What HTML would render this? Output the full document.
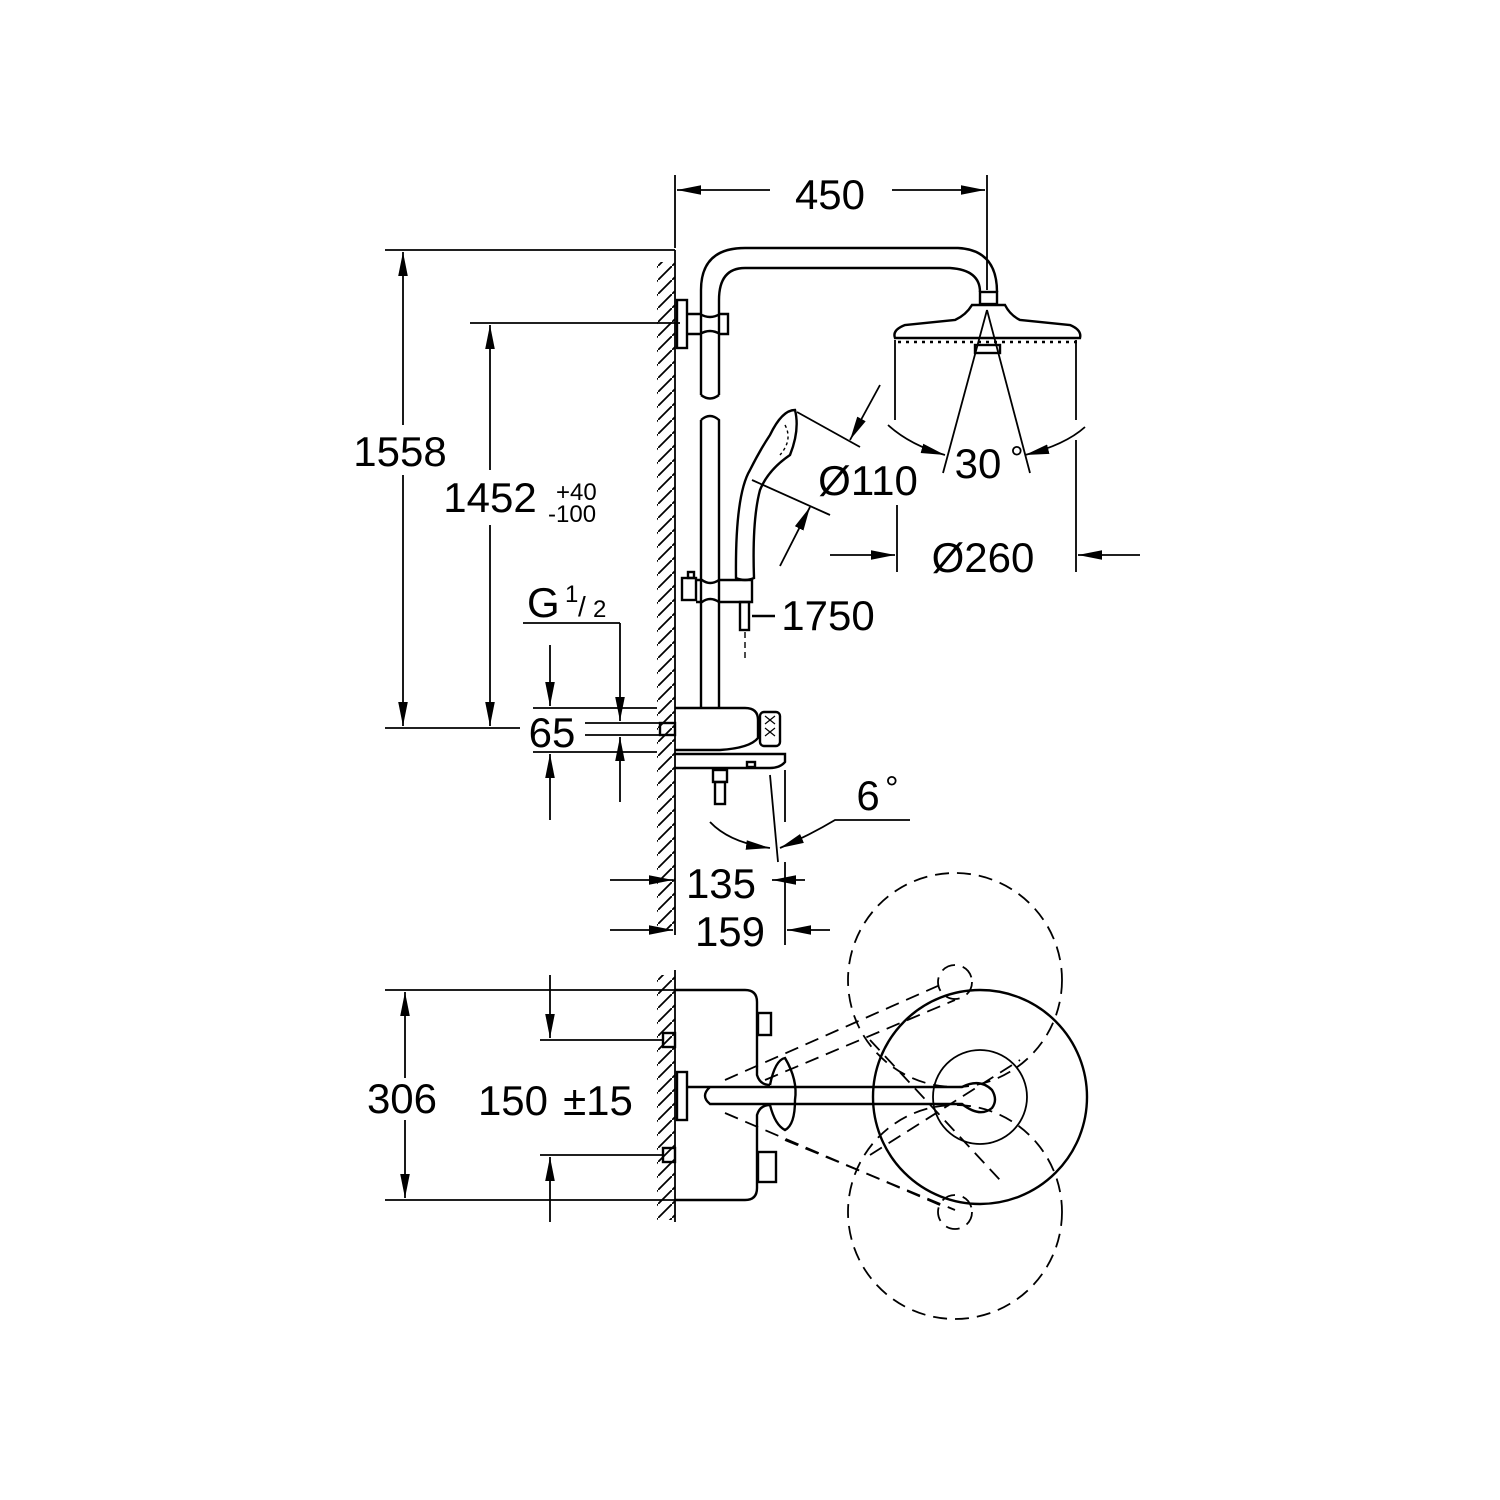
<!DOCTYPE html>
<html><head><meta charset="utf-8"><style>
html,body{margin:0;padding:0;background:#fff}
svg{display:block}
text{font-family:"Liberation Sans",Arial,sans-serif;fill:#000}
</style></head><body>
<svg width="1500" height="1500" viewBox="0 0 1500 1500" xmlns="http://www.w3.org/2000/svg">
<defs>
<marker id="a" viewBox="0 0 10 10" refX="10" refY="5" markerWidth="24" markerHeight="24" markerUnits="userSpaceOnUse" orient="auto-start-reverse"><path d="M0,3 L10,5 L0,7z" fill="#000"/></marker>
<pattern id="h" width="14" height="14" patternUnits="userSpaceOnUse"><path d="M-2,16 L16,-2" stroke="#000" stroke-width="1.8"/></pattern>
</defs>
<g stroke="#000" fill="none" stroke-width="1.8">
<line x1="675" y1="250" x2="675" y2="935"/>
<rect x="657" y="262" width="18" height="668" fill="url(#h)" stroke="none"/>
<line x1="675" y1="970" x2="675" y2="1222"/>
<rect x="657" y="975" width="18" height="245" fill="url(#h)" stroke="none"/>

<g stroke-width="2.4">
<path d="M701,395 L701,290 Q701,248 745,248 L958,248 Q997,250 997,292"/>
<path d="M719,395 L719,300 Q719,268 745,268 L950,268 Q980,270 980,292"/>
<path d="M701,395 Q710,402 719,395"/>
<path d="M701,420 Q710,412 719,420 L719,708 M701,420 L701,708"/>
<rect x="980" y="292" width="17" height="12"/>
<path d="M972,305 L1005,305 Q1010,315 1020,320 L1070,325 Q1082,330 1080,338 L895,338 Q892,330 905,325 L955,320 Q966,315 972,305z"/>
<path d="M898,342 L1077,342" stroke-dasharray="3 5"/>
<rect x="975" y="345" width="25" height="8"/>
<rect x="677" y="300" width="10" height="48"/>
<path d="M687,314 L700,314 Q710,320 720,314 L728,314 L728,334 L720,334 Q710,328 700,334 L687,334"/>
<rect x="682" y="578" width="14" height="22"/>
<rect x="688" y="572" width="6" height="6"/>
<path d="M696,580 L702,580 Q710,586 719,580 L752,580 L752,602 L719,602 Q710,596 702,602 L696,602"/>
<rect x="740" y="602" width="9" height="28"/>
<line x1="752" y1="616" x2="775" y2="616"/>
<line x1="745" y1="632" x2="745" y2="660" stroke-dasharray="6 4" stroke-width="1.4"/>
<path d="M736,578 Q735,495 750,470 Q760,450 770,435 Q782,410 795,410 Q800,430 790,455 Q768,470 760,490 Q752,520 754,578 Q745,582 736,578z"/>
<path d="M785,425 Q793,440 780,455" stroke-width="1.4" stroke-dasharray="3 3"/>
<rect x="660" y="723" width="15" height="12"/>
<path d="M675,708 L745,708 Q758,708 758,720 L758,738 Q750,748 720,750 L675,750"/>
<rect x="760" y="712" width="20" height="34" rx="4"/>
<path d="M675,754 L785,754 L785,762 Q780,768 770,768 L675,768"/>
<rect x="713" y="770" width="14" height="12"/>
<rect x="715" y="782" width="10" height="22"/>
<rect x="747" y="762" width="8" height="5"/>
</g>
<path d="M765,716 l10,8 M775,716 l-10,8 M765,728 l10,8 M775,728 l-10,8" stroke-width="1.2"/>

<line x1="675" y1="175" x2="675" y2="248"/>
<line x1="987" y1="175" x2="987" y2="290"/>
<line x1="677" y1="190" x2="770" y2="190" marker-start="url(#a)"/>
<line x1="892" y1="190" x2="985" y2="190" marker-end="url(#a)"/>
<line x1="385" y1="250" x2="675" y2="250"/>
<line x1="385" y1="728" x2="520" y2="728"/>
<line x1="403" y1="252" x2="403" y2="425" marker-start="url(#a)"/>
<line x1="403" y1="475" x2="403" y2="726" marker-end="url(#a)"/>
<line x1="470" y1="323" x2="680" y2="323"/>
<line x1="490" y1="325" x2="490" y2="470" marker-start="url(#a)"/>
<line x1="490" y1="525" x2="490" y2="726" marker-end="url(#a)"/>
<line x1="523" y1="623" x2="620" y2="623"/>
<line x1="620" y1="623" x2="620" y2="721" marker-end="url(#a)"/>
<line x1="620" y1="802" x2="620" y2="737" marker-end="url(#a)"/>
<line x1="550" y1="645" x2="550" y2="706" marker-end="url(#a)"/>
<line x1="550" y1="820" x2="550" y2="754" marker-end="url(#a)"/>
<line x1="533" y1="708" x2="657" y2="708"/>
<line x1="533" y1="752" x2="657" y2="752"/>
<line x1="585" y1="723" x2="660" y2="723"/>
<line x1="585" y1="735" x2="660" y2="735"/>
<line x1="797" y1="412" x2="860" y2="447"/>
<line x1="752" y1="480" x2="830" y2="515"/>
<line x1="880" y1="385" x2="850" y2="440" marker-end="url(#a)"/>
<line x1="780" y1="566" x2="810" y2="507" marker-end="url(#a)"/>
<line x1="895" y1="340" x2="895" y2="420"/>
<line x1="1076" y1="340" x2="1076" y2="420"/>
<line x1="987" y1="310" x2="943" y2="473"/>
<line x1="987" y1="310" x2="1030" y2="473"/>
<path d="M888,425 Q910,445 945,455" marker-end="url(#a)"/>
<path d="M1085,427 Q1065,445 1025,455" marker-end="url(#a)"/>
<line x1="897" y1="505" x2="897" y2="572"/>
<line x1="1076" y1="440" x2="1076" y2="572"/>
<line x1="830" y1="555" x2="895" y2="555" marker-end="url(#a)"/>
<line x1="1140" y1="555" x2="1078" y2="555" marker-end="url(#a)"/>
<line x1="770" y1="775" x2="778" y2="862"/>
<line x1="785" y1="770" x2="785" y2="822"/>
<path d="M710,822 Q730,843 770,848" marker-end="url(#a)"/>
<path d="M910,820 L835,820 Q810,835 780,848" marker-end="url(#a)"/>
<line x1="610" y1="880" x2="673" y2="880" marker-end="url(#a)"/>
<line x1="805" y1="880" x2="772" y2="880" marker-end="url(#a)"/>
<line x1="610" y1="930" x2="673" y2="930" marker-end="url(#a)"/>
<line x1="830" y1="930" x2="787" y2="930" marker-end="url(#a)"/>
<line x1="785" y1="862" x2="785" y2="945"/>

<g stroke-width="2.4">
<path d="M675,990 L745,990 Q757,990 757,1002 L757,1075 Q760,1085 770,1085"/>
<path d="M675,1200 L745,1200 Q757,1200 757,1188 L757,1115 Q760,1105 770,1105"/>
<rect x="758" y="1013" width="13" height="22"/>
<rect x="758" y="1152" width="18" height="30"/>
<rect x="663" y="1033" width="12" height="14"/>
<rect x="663" y="1148" width="12" height="14"/>
<rect x="677" y="1072" width="10" height="48"/>
<path d="M687,1087 L962,1087 Q980,1078 992,1090 Q998,1100 992,1108 Q980,1118 962,1104 L710,1104 Q700,1096 710,1087"/>
<path d="M770,1085 Q775,1060 785,1058 Q798,1080 795,1100 Q795,1125 785,1130 Q775,1125 770,1105"/>
<circle cx="980" cy="1097" r="107"/>
</g>
<circle cx="980" cy="1097" r="47"/>
<g stroke-dasharray="14 8">
<circle cx="955" cy="980" r="107"/>
<circle cx="955" cy="1212" r="107"/>
<circle cx="955" cy="982" r="17"/>
<circle cx="955" cy="1212" r="17"/>
<line x1="725" y1="1080" x2="940" y2="985"/>
<line x1="765" y1="1080" x2="955" y2="1000"/>
<line x1="725" y1="1113" x2="940" y2="1205"/>
<line x1="785" y1="1140" x2="955" y2="1210"/>
<line x1="870" y1="1040" x2="1000" y2="1180"/>
<line x1="870" y1="1155" x2="1020" y2="1060"/>
</g>
<line x1="385" y1="990" x2="675" y2="990"/>
<line x1="385" y1="1200" x2="675" y2="1200"/>
<line x1="405" y1="992" x2="405" y2="1078" marker-start="url(#a)"/>
<line x1="405" y1="1120" x2="405" y2="1198" marker-end="url(#a)"/>
<line x1="540" y1="1040" x2="663" y2="1040"/>
<line x1="540" y1="1155" x2="663" y2="1155"/>
<line x1="550" y1="975" x2="550" y2="1038" marker-end="url(#a)"/>
<line x1="550" y1="1222" x2="550" y2="1157" marker-end="url(#a)"/>
</g>

<g font-size="42">
<text x="830" y="209" text-anchor="middle">450</text>
<text x="400" y="466" text-anchor="middle">1558</text>
<text x="490" y="512" text-anchor="middle">1452</text>
<text x="552" y="747" text-anchor="middle">65</text>
<text x="868" y="495" text-anchor="middle">Ø110</text>
<text x="978" y="478" text-anchor="middle">30</text>
<text x="983" y="572" text-anchor="middle">Ø260</text>
<text x="828" y="630" text-anchor="middle">1750</text>
<text x="721" y="898" text-anchor="middle">135</text>
<text x="730" y="946" text-anchor="middle">159</text>
<text x="868" y="810" text-anchor="middle">6</text>
<text x="402" y="1113" text-anchor="middle">306</text>
<text x="513" y="1115" text-anchor="middle">150</text>
<text x="598" y="1115" text-anchor="middle">±15</text>
<text x="527" y="617">G</text>
</g>
<text x="1010" y="470" font-size="34">°</text>
<text x="885" y="800" font-size="34">°</text>
<text x="556" y="500" font-size="24">+40</text>
<text x="548" y="522" font-size="24">-100</text>
<text x="565" y="602" font-size="24">1</text>
<text x="578" y="616" font-size="28">/</text>
<text x="593" y="617" font-size="24">2</text>
</svg>
</body></html>
